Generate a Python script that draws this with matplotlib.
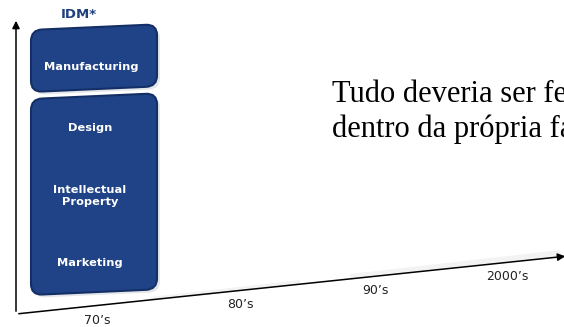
import matplotlib.pyplot as plt
from matplotlib.patches import FancyBboxPatch, Polygon
from matplotlib.transforms import Affine2D

# stacked blocks of the IDM model
top_block = ["Manufacturing"]
main_block = ["Design", "Intellectual\nProperty", "Marketing"]
decades = ["70\u2019s", "80\u2019s", "90\u2019s", "2000\u2019s"]
caption = ["Tudo deveria ser feito", "dentro da própria fábrica"]
title = "IDM*"

NAVY = "#1f4386"
EDGE = "#142f66"

fig = plt.figure(figsize=(5.64, 3.27), dpi=100)
ax = fig.add_axes([0, 0, 1, 1])
ax.set_xlim(0, 564)
ax.set_ylim(327, 0)
ax.axis("off")


def block(x0, y0, w, h, slope=-0.045):
    # rounded box, skewed a little so it leans like the time axis
    skew = Affine2D([[1, 0, 0], [slope, 1, -slope * x0], [0, 0, 1]])
    shadow = FancyBboxPatch((x0 + 3, y0 + 3), w, h, boxstyle="round,pad=0,rounding_size=11",
                            facecolor="#d3d6dc", edgecolor="none", alpha=0.6,
                            transform=skew + ax.transData)
    box = FancyBboxPatch((x0, y0), w, h, boxstyle="round,pad=0,rounding_size=11",
                         facecolor=NAVY, edgecolor=EDGE, linewidth=1.5,
                         transform=skew + ax.transData)
    ax.add_patch(shadow)
    ax.add_patch(box)


block(31, 30, 126, 62)
block(31, 99, 126, 196)

lbl = dict(color="white", fontweight="bold", fontsize=8.2, ha="center", va="center",
           family="DejaVu Sans", linespacing=1.35)
ax.text(91, 67, top_block[0], **lbl)
ys = [128, 196, 263]
for name, y in zip(main_block, ys):
    ax.text(90, y, name, **lbl)

ax.text(79, 15, title, color="#1f3f7f", fontweight="bold", fontsize=9.5, ha="center", va="center")

# faint haze above the time axis
ax.add_patch(Polygon([[150, 297], [300, 280], [300, 284], [150, 300]], closed=True,
                     facecolor="#ececec", edgecolor="none", alpha=0.6))
ax.add_patch(Polygon([[350, 274], [560, 250], [560, 256], [350, 278]], closed=True,
                     facecolor="#ececec", edgecolor="none", alpha=0.6))

# axes drawn as arrows
arrow = dict(arrowstyle="-|>", color="black", lw=1.1, mutation_scale=11)
ax.annotate("", xy=(16, 18), xytext=(16, 314), arrowprops=arrow, annotation_clip=False)
ax.annotate("", xy=(568, 256), xytext=(16, 314), arrowprops=arrow, annotation_clip=False)

dec_pos = [(97, 320), (240, 304), (375, 291), (507, 276)]
for d, (x, y) in zip(decades, dec_pos):
    ax.text(x, y, d, fontsize=9, ha="center", va="center", color="#222222")

# caption runs past the right edge of the figure
for line, y in zip(caption, [102, 137]):
    ax.text(332, y, line, fontsize=22, family="Liberation Serif", ha="left",
            va="baseline", color="black")

fig.savefig("out.png", dpi=100)
